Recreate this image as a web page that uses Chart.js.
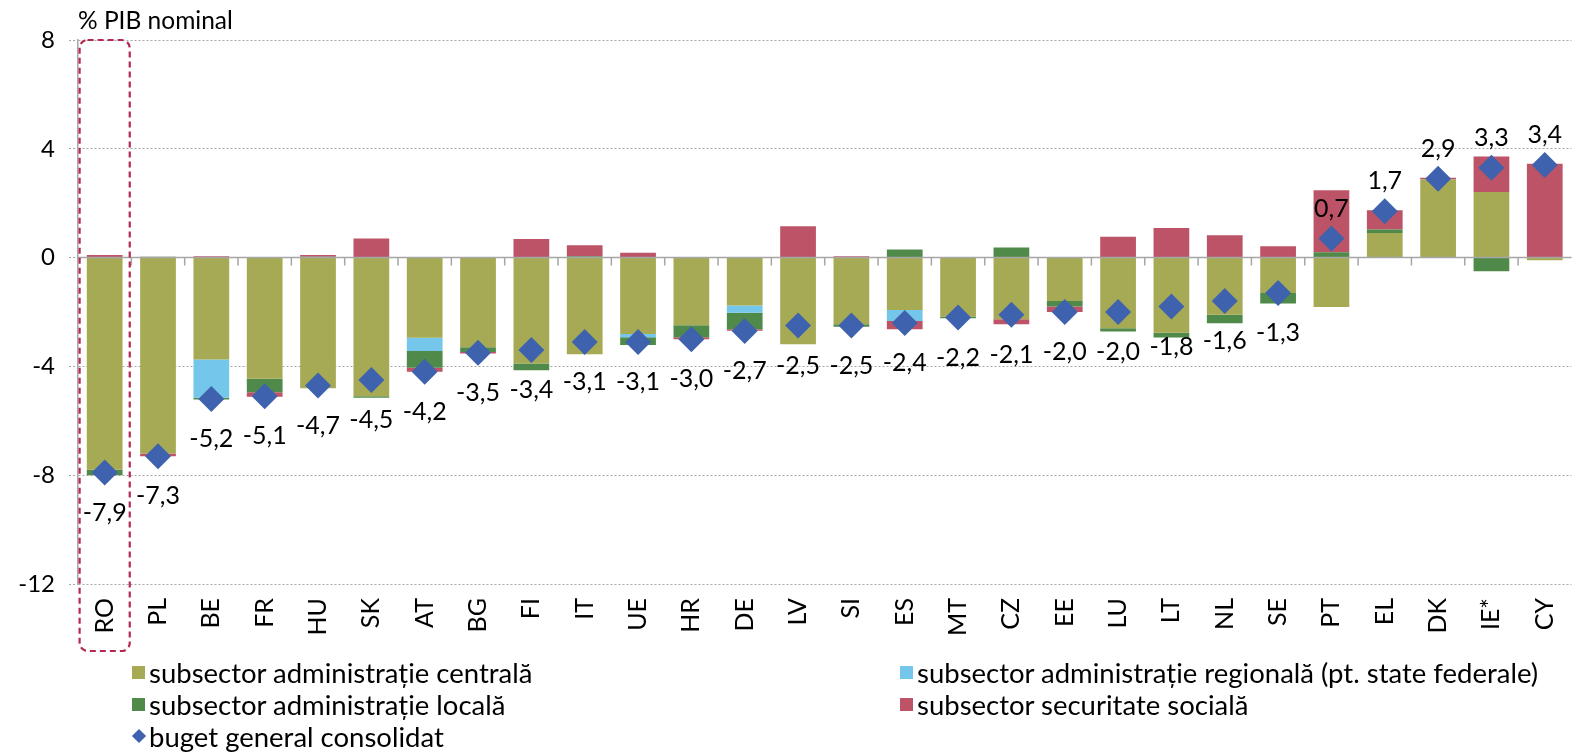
<!DOCTYPE html>
<html>
<head>
<meta charset="utf-8">
<script src="https://cdn.jsdelivr.net/npm/chart.js@4.4.0/dist/chart.umd.min.js"></script>
<style>
  html, body { margin: 0; padding: 0; background: #fff; overflow: hidden; }
  #wrap { position: relative; width: 1589px; height: 753px; }
  #box { position: absolute; left: 0; top: 0; width: 1589px; height: 660px; }
  #legend {
    position: absolute; left: 132px; top: 656px;
    display: grid; grid-template-columns: 768px auto;
    font-family: Lato, sans-serif; font-size: 27.5px; color: #000;
  }
  .item { display: flex; align-items: center; height: 32px; white-space: nowrap; }
  .sw { width: 13px; height: 13px; margin-right: 4px; flex: none; }
  .dia { width: 10px; height: 10px; margin: 0 5px 0 2px; transform: rotate(45deg); flex: none; }
</style>
</head>
<body>
<div id="wrap">
  <div id="box"><canvas id="my-canvas"></canvas></div>
  <div id="legend"></div>
</div>
<script>
const categories = ['RO','PL','BE','FR','HU','SK','AT','BG','FI','IT','UE','HR','DE','LV','SI','ES','MT','CZ','EE','LU','LT','NL','SE','PT','EL','DK','IE*','CY']

const central  = [-7.8,-7.2,-3.75,-4.45,-4.8,-5.1,-2.95,-3.3,-3.89,-3.55,-2.81,-2.49,-1.76,-3.19,-2.45,-1.93,-2.17,-2.27,-1.6,-2.6,-2.76,-2.1,-1.3,-1.82,0.9,2.87,2.41,-0.1]
const regional = [0,0,-1.4,0,0,0,-0.48,0,0,0,-0.12,0,-0.27,0,0,-0.4,0,0,0,0,0,0,0,0,0,0,0,0]
const local    = [-0.2,0.03,-0.07,-0.5,0.03,-0.05,-0.62,-0.17,-0.25,0.05,-0.28,-0.44,-0.6,0,-0.09,0.3,-0.06,0.37,-0.2,-0.12,-0.18,-0.31,-0.39,0.2,0.13,0,-0.5,0]
const social   = [0.1,-0.1,0.05,-0.17,0.07,0.7,-0.15,-0.06,0.68,0.4,0.18,-0.07,-0.06,1.15,0.05,-0.3,0,-0.18,-0.2,0.77,1.09,0.82,0.42,2.28,0.71,0.07,1.31,3.45]
const total    = [-7.9,-7.3,-5.2,-5.1,-4.7,-4.5,-4.2,-3.5,-3.4,-3.1,-3.1,-3.0,-2.7,-2.5,-2.5,-2.4,-2.2,-2.1,-2.0,-2.0,-1.8,-1.6,-1.3,0.7,1.7,2.9,3.3,3.4]

const yTicks = [-12, -8, -4, 0, 4, 8]
const yTitle = '% PIB nominal'

const FONT = 'Lato'
const colors = {
    central: '#A6AA55',
    regional: '#74C7EA',
    local: '#4F8A4A',
    social: '#BD5366',
    total: '#3E62AD',
    box: '#B3294F'
}

// zero line, tick marks, title, data labels and the RO highlight box
const extras = {
    id: 'extras',
    beforeDatasetDraw(chart, args) {
        if (chart.getDatasetMeta(args.index).type !== 'line') return
        const ctx = chart.ctx
        const x = chart.scales.x, y = chart.scales.y
        const y0 = y.getPixelForValue(0)
        ctx.save()
        ctx.strokeStyle = '#A6A6A6'
        ctx.lineWidth = 1.5
        ctx.beginPath()
        ctx.moveTo(x.left, y0)
        ctx.lineTo(x.right, y0)
        const step = (x.right - x.left) / categories.length
        for (let i = 1; i < categories.length; i++) {
            ctx.moveTo(x.left + i * step, y0)
            ctx.lineTo(x.left + i * step, y0 + 8)
        }
        ctx.stroke()
        ctx.restore()
    },
    afterDatasetsDraw(chart) {
        const ctx = chart.ctx
        const area = chart.chartArea
        const x = chart.scales.x
        ctx.save()
        ctx.fillStyle = '#000'
        ctx.font = '25px ' + FONT
        ctx.textAlign = 'center'
        ctx.textBaseline = 'middle'
        const meta = chart.getDatasetMeta(4)
        meta.data.forEach((pt, i) => {
            const v = total[i]
            const txt = v.toFixed(1).replace('.', ',')
            ctx.fillText(txt, pt.x, v < 0 ? pt.y + 40 : pt.y - 30)
        })

        ctx.textAlign = 'left'
        ctx.textBaseline = 'alphabetic'
        ctx.font = '24.5px ' + FONT
        ctx.fillText(yTitle, area.left, area.top - 11)

        // dashed box round RO
        const step = (x.right - x.left) / categories.length
        const cx = x.getPixelForValue(0)
        ctx.strokeStyle = colors.box
        ctx.lineWidth = 2.2
        ctx.setLineDash([6, 4])
        ctx.beginPath()
        ctx.roundRect(cx - step * 0.47, area.top, step * 0.94, area.bottom - area.top + 67, 8)
        ctx.stroke()
        ctx.restore()
    }
}

const ctx = document.querySelector('#my-canvas').getContext('2d')

const chart = new Chart(ctx, {
    data: {
        labels: categories,
        datasets: [
            { type: 'bar', label: 'subsector administrație centrală', data: central, backgroundColor: colors.central, stack: 'a', order: 1 },
            { type: 'bar', label: 'subsector administrație regională (pt. state federale)', data: regional, backgroundColor: colors.regional, stack: 'a', order: 1 },
            { type: 'bar', label: 'subsector administrație locală', data: local, backgroundColor: colors.local, stack: 'a', order: 1 },
            { type: 'bar', label: 'subsector securitate socială', data: social, backgroundColor: colors.social, stack: 'a', order: 1 },
            {
                type: 'line', label: 'buget general consolidat', data: total, stack: 'b', order: 0,
                showLine: false, pointStyle: 'rectRot', pointRadius: 13,
                backgroundColor: colors.total, borderColor: colors.total, borderWidth: 0
            }
        ]
    },
    options: {
        responsive: true,
        maintainAspectRatio: false,
        animation: false,
        datasets: { bar: { categoryPercentage: 1, barPercentage: 0.67 } },
        layout: { padding: { top: 40, right: 0, bottom: 0, left: 0 } },
        plugins: { legend: { display: false }, tooltip: { enabled: false } },
        scales: {
            x: {
                stacked: true,
                grid: { display: false, drawTicks: false },
                border: { display: false },
                ticks: { color: '#000', font: { family: FONT, size: 25 }, maxRotation: 90, minRotation: 90, padding: 14 },
                afterFit: s => { s.height = 76 }
            },
            y: {
                stacked: true,
                min: -12,
                max: 8,
                afterBuildTicks: s => { s.ticks = yTicks.map(v => ({ value: v })) },
                grid: { color: '#A6A6A6', lineWidth: 1, tickLength: 9, tickBorderDash: [2, 2] },
                border: { display: true, color: '#A6A6A6', width: 1.5, dash: [2, 2] },
                ticks: { color: '#000', font: { family: FONT, size: 24 }, padding: 14, callback: v => String(v) },
                afterFit: s => { s.width = 78 }
            }
        }
    },
    plugins: [extras]
})

// legend in two columns, built from the datasets
const order = [0, 1, 2, 3, 4]
const legend = document.getElementById('legend')
order.forEach(i => {
    const ds = chart.data.datasets[i]
    const item = document.createElement('div')
    item.className = 'item'
    const sw = document.createElement('span')
    sw.className = ds.type === 'line' ? 'dia' : 'sw'
    sw.style.background = ds.backgroundColor
    item.appendChild(sw)
    item.appendChild(document.createTextNode(ds.label))
    legend.appendChild(item)
})
</script>
</body>
</html>
